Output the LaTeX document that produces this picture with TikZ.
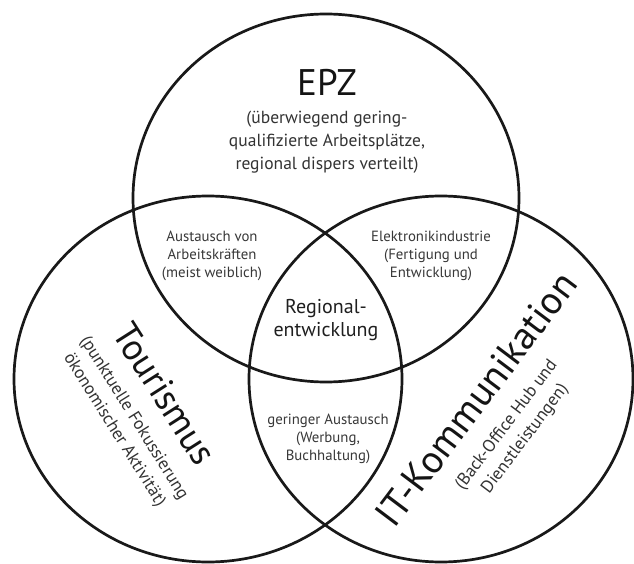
\documentclass[tikz,border=0pt]{standalone}
\usepackage{fontspec}
\setmainfont{PT Sans}
\begin{document}
\begin{tikzpicture}[x=1pt,y=-1pt,
  ring/.style={line width=2.7pt, draw=black!90},
  title/.style={font=\fontsize{37}{42}\selectfont, text=black!92, inner sep=0pt},
  sub/.style={font=\fontsize{17.5}{23}\selectfont, text=black!80, align=center, inner sep=0pt},
  small/.style={font=\fontsize{14.8}{18}\selectfont, text=black!78, align=center, inner sep=0pt},
  mid/.style={font=\fontsize{20}{22.5}\selectfont, text=black!88, align=center, inner sep=0pt}]
\useasboundingbox (0,0) rectangle (634,564);
\fill[white] (0,0) rectangle (634,564);
\draw[ring] (326,198) ellipse [x radius=193pt, y radius=184pt];
\draw[ring] (208,379) ellipse [x radius=194pt, y radius=183pt];
\draw[ring] (441,379) ellipse [x radius=192pt, y radius=183pt];
\node[title] (epz) at (327,82) {EPZ};
\node[sub] (epzsub) at (327,142) {(überwiegend gering-\\qualifizierte Arbeitsplätze,\\regional dispers verteilt)};
\node[small] (ab) at (212,256) {Austausch von\\Arbeitskräften\\(meist weiblich)};
\node[small] (el) at (431,256) {Elektronikindustrie\\(Fertigung und\\Entwicklung)};
\node[mid] (reg) at (326,320) {Regional-\\entwicklung};
\node[small] (ger) at (328,439) {geringer Austausch\\(Werbung,\\Buchhaltung)};
\node[title, rotate=-57.5] (tour) at (165,394) {Tourismus};
\node[sub, rotate=-58] (toursub) at (124,424) {(punktuelle Fokussierung\\ökonomischer Aktivität)};
\node[title, rotate=53, font=\fontsize{39}{44}\selectfont] (it) at (476,399) {IT-Kommunikation};
\node[sub, rotate=53] (itsub) at (516,432) {(Back-Office Hub und\\Dienstleistungen)};
\end{tikzpicture}
\end{document}
